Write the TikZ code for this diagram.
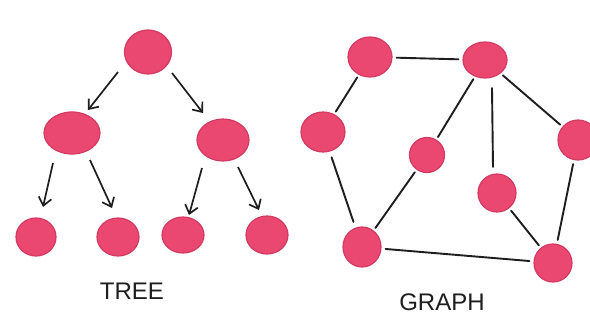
\documentclass[tikz,border=0pt]{standalone}
\usepackage{fontspec}
\setmainfont{Liberation Sans}
\usetikzlibrary{arrows.meta,shapes.geometric}
\definecolor{dotfill}{HTML}{EA4871}
\definecolor{dotedge}{HTML}{D23A62}
\definecolor{ink}{HTML}{1E1E1E}
\begin{document}
\begin{tikzpicture}[x=1pt,y=-1pt,
  dot/.style={ellipse,draw=dotedge,line width=1.2pt,fill=dotfill,inner sep=0pt},
  arr/.style={draw=ink,line width=1.7pt,-{Straight Barb[length=8pt,width=13pt,line width=1.7pt]}},
  link/.style={draw=ink,line width=1.9pt,line cap=round},
  lbl/.style={text=ink,font=\fontsize{24}{24}\selectfont}]
\useasboundingbox[fill=white] (0,0) rectangle (590,324);
% tree
\node[dot,minimum width=47pt,minimum height=44pt] (r) at (148,52) {};
\node[dot,minimum width=56pt,minimum height=42pt] (l) at (72,133) {};
\node[dot,minimum width=52pt,minimum height=42pt] (rr) at (223,140) {};
\node[dot,minimum width=40pt,minimum height=38pt] (ll1) at (36,237) {};
\node[dot,minimum width=42pt,minimum height=38pt] (ll2) at (118,237) {};
\node[dot,minimum width=42pt,minimum height=36pt] (rl1) at (183,235) {};
\node[dot,minimum width=42pt,minimum height=38pt] (rl2) at (267,235) {};
\coordinate (a1s) at (118,72); \coordinate (a1e) at (88,110);
\coordinate (a2s) at (172,73); \coordinate (a2e) at (203,113);
\coordinate (a3s) at (53,163); \coordinate (a3e) at (43,207);
\coordinate (a4s) at (90,160); \coordinate (a4e) at (112,208);
\coordinate (a5s) at (202,168); \coordinate (a5e) at (189,215);
\coordinate (a6s) at (238,167); \coordinate (a6e) at (259,210);
\draw[arr] (a1s) -- (a1e);
\draw[arr] (a2s) -- (a2e);
\draw[arr] (a3s) -- (a3e);
\draw[arr] (a4s) -- (a4e);
\draw[arr] (a5s) -- (a5e);
\draw[arr] (a6s) -- (a6e);
\node[lbl] (tt) at (132,291) {TREE};
% graph
\node[dot,minimum width=44pt,minimum height=40pt] (A) at (370,57) {};
\node[dot,minimum width=44pt,minimum height=36pt] (B) at (485,60) {};
\node[dot,minimum width=44pt,minimum height=40pt] (C) at (323,132) {};
\node[dot,minimum width=35pt,minimum height=35pt] (D) at (427,155) {};
\node[dot,minimum width=40pt,minimum height=40pt] (E) at (578,140) {};
\node[dot,minimum width=38pt,minimum height=38pt] (F) at (497,193) {};
\node[dot,minimum width=38pt,minimum height=40pt] (G) at (362,247) {};
\node[dot,minimum width=38pt,minimum height=38pt] (H) at (553,263) {};
\coordinate (bf) at (492,88);
\coordinate (fb) at (493,167);
\draw[link,shorten <=4pt,shorten >=4pt] (A) -- (B);
\draw[link,shorten <=3pt,shorten >=3pt] (A) -- (C);
\draw[link,shorten <=6pt,shorten >=6pt] (C) -- (G);
\draw[link,shorten <=3pt,shorten >=3pt] (B) -- (D);
\draw[link] (bf) -- (fb);
\draw[link,shorten <=3pt,shorten >=3pt] (B) -- (E);
\draw[link,shorten <=3pt,shorten >=3pt] (D) -- (G);
\draw[link,shorten <=4pt,shorten >=4pt] (G) -- (H);
\draw[link,shorten <=3pt,shorten >=3pt] (F) -- (H);
\draw[link,shorten <=4pt,shorten >=4pt] (E) -- (H);
\node[lbl] (gt) at (442,302) {GRAPH};
\end{tikzpicture}
\end{document}
